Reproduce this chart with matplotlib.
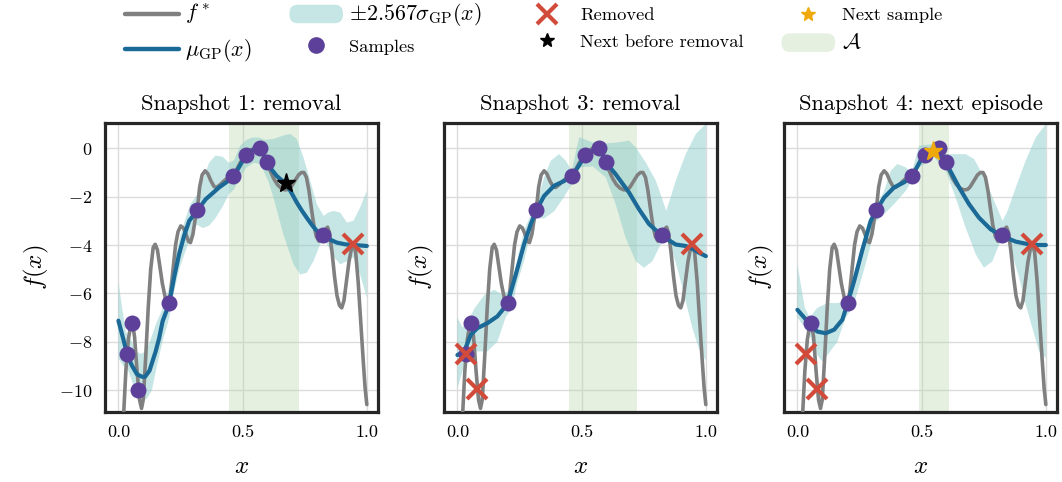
import numpy as np
import matplotlib.pyplot as plt
from matplotlib.lines import Line2D
from matplotlib.patches import Patch, FancyBboxPatch
from matplotlib.legend_handler import HandlerPatch

# ---- data ----
f_star_x = [0.000, 0.010, 0.020, 0.030, 0.040, 0.050, 0.057, 0.065, 0.075, 0.085,
            0.093, 0.100, 0.110, 0.120, 0.130, 0.140, 0.148, 0.157, 0.167, 0.177,
            0.190, 0.200, 0.210, 0.220, 0.230, 0.240, 0.251, 0.262, 0.272, 0.282,
            0.290, 0.300, 0.308, 0.318, 0.327, 0.337, 0.349, 0.360, 0.372, 0.385,
            0.395, 0.410, 0.425, 0.440, 0.459, 0.475, 0.490, 0.513, 0.530, 0.550,
            0.569, 0.583, 0.597, 0.610, 0.625, 0.640, 0.655, 0.670, 0.685, 0.695,
            0.710, 0.725, 0.737, 0.747, 0.757, 0.767, 0.777, 0.787, 0.797, 0.807,
            0.817, 0.825, 0.834, 0.842, 0.850, 0.860, 0.870, 0.880, 0.890, 0.899,
            0.908, 0.918, 0.928, 0.938, 0.946, 0.955, 0.965, 0.975, 0.985, 0.993, 1.000]
f_star_y = [-14.5, -12.8, -11.2, -9.2, -7.9, -7.3, -7.25, -7.8, -9.2, -10.4,
            -10.76, -10.4, -8.6, -6.6, -5.0, -4.1, -3.97, -4.2, -4.9, -5.6,
            -6.25, -6.4, -6.0, -5.0, -4.0, -3.45, -3.21, -3.3, -3.55, -3.85,
            -3.9, -3.55, -3.0, -2.5, -1.6, -1.1, -0.93, -1.05, -1.34, -1.58,
            -1.62, -1.5, -1.35, -1.22, -1.13, -0.9, -0.6, -0.26, -0.08, 0.02,
            0.0, -0.22, -0.57, -0.9, -1.25, -1.5, -1.65, -1.72, -1.7, -1.6,
            -1.35, -1.1, -1.0, -1.0, -1.2, -1.75, -2.5, -3.2, -3.65, -3.84,
            -3.75, -3.6, -3.35, -3.26, -3.5, -4.3, -5.3, -6.1, -6.5, -6.6,
            -6.3, -5.5, -4.7, -4.15, -4.0, -4.3, -5.5, -7.1, -8.7, -9.9, -10.6]

samples_x = [0.034, 0.055, 0.078, 0.205, 0.316, 0.460, 0.513, 0.569, 0.597, 0.824]
samples_y = [-8.51, -7.22, -10.0, -6.39, -2.55, -1.14, -0.26, 0.0, -0.57, -3.59]

# snapshot 1
mean1_x = [0.000, 0.020, 0.036, 0.055, 0.075, 0.095, 0.107, 0.125, 0.150, 0.164,
           0.178, 0.204, 0.225, 0.244, 0.265, 0.285, 0.318, 0.352, 0.380, 0.405,
           0.435, 0.463, 0.490, 0.513, 0.540, 0.568, 0.583, 0.597, 0.617, 0.637,
           0.655, 0.675, 0.697, 0.718, 0.738, 0.758, 0.779, 0.799, 0.826, 0.853,
           0.879, 0.912, 0.946, 0.975, 1.000]
mean1_y = [-7.13, -7.9, -8.55, -9.0, -9.35, -9.45, -9.45, -9.2, -8.4, -7.85,
           -7.15, -6.44, -5.3, -4.39, -3.6, -3.0, -2.56, -2.1, -1.85, -1.62,
           -1.4, -1.18, -0.7, -0.28, -0.08, -0.03, -0.25, -0.58, -0.88, -1.14,
           -1.3, -1.45, -1.85, -2.24, -2.57, -2.87, -3.17, -3.42, -3.63, -3.78,
           -3.9, -3.97, -4.0, -4.02, -4.04]
upper1_x = [0.000, 0.015, 0.030, 0.050, 0.070, 0.090, 0.110, 0.130, 0.150, 0.175,
            0.200, 0.225, 0.250, 0.270, 0.290, 0.315, 0.340, 0.365, 0.390, 0.420,
            0.445, 0.465, 0.490, 0.515, 0.540, 0.565, 0.590, 0.624, 0.664, 0.691,
            0.718, 0.745, 0.772, 0.799, 0.826, 0.846, 0.866, 0.893, 0.920, 0.946,
            0.973, 1.000]
upper1_y = [-5.5, -6.6, -7.6, -7.9, -8.4, -8.5, -8.4, -7.9, -7.3, -6.7,
            -5.9, -4.7, -3.6, -2.9, -2.3, -1.95, -1.3, -0.6, -0.3, -0.35,
            -0.6, -0.5, 0.1, 0.35, 0.45, 0.45, 0.35, 0.39, 0.53, 0.6,
            0.39, -0.37, -1.34, -2.31, -2.8, -2.65, -2.59, -2.66, -3.07, -3.0,
            -2.45, -1.76]
lower1_x = [0.000, 0.020, 0.040, 0.060, 0.080, 0.100, 0.115, 0.135, 0.155, 0.180,
            0.205, 0.225, 0.245, 0.265, 0.290, 0.315, 0.340, 0.365, 0.390, 0.420,
            0.445, 0.465, 0.490, 0.515, 0.545, 0.570, 0.584, 0.605, 0.624, 0.664,
            0.705, 0.732, 0.758, 0.785, 0.812, 0.832, 0.859, 0.893, 0.920, 0.946,
            0.973, 1.000]
lower1_y = [-8.7, -9.0, -9.2, -9.8, -10.3, -10.4, -10.35, -10.0, -9.0, -7.9,
            -7.0, -5.9, -5.0, -4.4, -3.7, -3.15, -3.3, -3.2, -2.9, -2.4,
            -1.9, -1.7, -1.2, -0.8, -0.6, -0.65, -0.93, -1.4, -2.04, -3.56,
            -4.8, -5.22, -5.15, -4.67, -3.98, -3.77, -4.39, -4.8, -4.67, -4.5,
            -5.22, -6.19]

# snapshot 3
mean2_x = [0.000, 0.027, 0.054, 0.080, 0.121, 0.161, 0.201, 0.235, 0.268, 0.295,
           0.318, 0.349, 0.389, 0.430, 0.460, 0.490, 0.517, 0.545, 0.568, 0.583,
           0.597, 0.637, 0.691, 0.731, 0.772, 0.825, 0.879, 0.919, 0.946, 0.973, 1.000]
mean2_y = [-8.55, -8.41, -7.71, -7.44, -7.23, -6.95, -6.44, -5.22, -3.98, -3.14,
           -2.56, -1.97, -1.55, -1.35, -1.18, -0.7, -0.24, -0.1, -0.07, -0.25,
           -0.58, -1.07, -1.83, -2.52, -3.14, -3.63, -3.98, -4.04, -4.15, -4.32, -4.46]
upper2_x = [0.000, 0.020, 0.040, 0.070, 0.110, 0.148, 0.181, 0.205, 0.230, 0.268,
            0.302, 0.318, 0.349, 0.376, 0.409, 0.436, 0.460, 0.490, 0.543, 0.597,
            0.650, 0.691, 0.718, 0.758, 0.799, 0.841, 0.879, 0.919, 0.960, 1.000]
upper2_y = [-7.0, -7.4, -7.2, -6.6, -6.05, -5.85, -6.05, -5.9, -5.1, -3.42,
            -2.6, -2.3, -1.2, -0.51, -0.24, -0.51, -0.93, 0.46, 0.25, 0.2,
            0.25, 0.32, 0.04, -0.58, -1.34, -2.59, -1.34, -0.24, 0.6, 1.0]
lower2_x = [0.000, 0.015, 0.040, 0.080, 0.121, 0.161, 0.194, 0.220, 0.240, 0.270,
            0.300, 0.318, 0.350, 0.390, 0.430, 0.460, 0.490, 0.545, 0.597, 0.637,
            0.677, 0.718, 0.751, 0.785, 0.818, 0.838, 0.865, 0.892, 0.919, 0.946,
            0.973, 1.000]
lower2_y = [-9.93, -9.4, -8.55, -8.4, -8.4, -8.0, -7.0, -6.6, -5.6, -4.6,
            -3.3, -2.9, -2.9, -2.6, -2.0, -1.5, -0.79, -0.75, -1.2, -2.31,
            -3.7, -4.67, -4.94, -4.67, -3.98, -3.7, -4.25, -5.22, -6.33, -7.44,
            -8.3, -8.8]

# snapshot 4
mean3_x = [0.000, 0.029, 0.056, 0.080, 0.114, 0.148, 0.181, 0.201, 0.228, 0.262,
           0.295, 0.318, 0.349, 0.389, 0.430, 0.460, 0.510, 0.550, 0.597, 0.651,
           0.691, 0.731, 0.778, 0.825, 0.879, 0.946, 1.000]
mean3_y = [-6.68, -7.02, -7.37, -7.58, -7.65, -7.5, -7.09, -6.44, -5.5, -4.18,
           -3.0, -2.56, -2.04, -1.62, -1.4, -1.18, -0.24, -0.03, -0.58, -1.62,
           -2.31, -2.87, -3.35, -3.63, -3.86, -4.0, -4.0]
upper3_x = [0.000, 0.014, 0.030, 0.050, 0.080, 0.121, 0.161, 0.201, 0.242, 0.268,
            0.302, 0.318, 0.349, 0.376, 0.402, 0.436, 0.460, 0.490, 0.550, 0.597,
            0.637, 0.677, 0.711, 0.745, 0.778, 0.812, 0.826, 0.846, 0.879, 0.919,
            0.960, 1.000]
upper3_y = [-4.8, -5.64, -6.6, -7.0, -6.6, -6.4, -6.4, -6.3, -4.95, -3.98,
            -2.87, -2.45, -1.76, -0.93, -0.65, -0.79, -1.0, 0.11, 0.18, -0.24,
            -0.24, -0.24, -0.44, -1.07, -1.83, -2.66, -3.0, -2.59, -1.62, -0.51,
            0.46, 1.0]
lower3_x = [0.000, 0.029, 0.054, 0.080, 0.100, 0.121, 0.161, 0.194, 0.222, 0.255,
            0.289, 0.318, 0.349, 0.389, 0.436, 0.460, 0.490, 0.550, 0.597, 0.637,
            0.677, 0.718, 0.751, 0.785, 0.812, 0.838, 0.865, 0.892, 0.919, 0.946,
            0.973, 1.000]
lower3_y = [-7.0, -7.4, -7.85, -8.55, -8.82, -8.55, -8.0, -7.0, -6.6, -5.5,
            -4.25, -3.0, -2.73, -2.31, -1.76, -1.34, -0.79, -0.37, -0.93, -2.04,
            -3.28, -4.39, -4.94, -4.67, -3.98, -3.63, -4.39, -5.33, -6.47, -7.44,
            -8.4, -8.68]

removed_x = [0.034, 0.078, 0.946]
removed_y = [-8.51, -9.95, -3.96]

region_A = [(0.447, 0.726), (0.450, 0.721), (0.491, 0.609)]
titles = ['Snapshot 1: removal', 'Snapshot 3: removal', 'Snapshot 4: next episode']
next_before = (0.674, -1.42)
next_sample = (0.547, -0.10)

# colours
c_fstar = '#808080'
c_mean = '#1b6996'
c_band = '#82c8c8'
c_sample = '#5c4099'
c_removed = '#d24a3a'
c_next = '#f0a90a'
c_region = '#b5d6a7'


def draw_panel(ax, mean_x, mean_y, up_x, up_y, lo_x, lo_y, region, keep, removed_idx, title):
    ax.axvspan(region[0], region[1], color=c_region, alpha=0.35, lw=0, zorder=1)
    poly_x = np.concatenate([up_x, lo_x[::-1]])
    poly_y = np.concatenate([up_y, lo_y[::-1]])
    ax.fill(poly_x, poly_y, color=c_band, alpha=0.45, lw=0, zorder=2)
    ax.plot(f_star_x, f_star_y, color=c_fstar, lw=2.6, zorder=3, solid_capstyle='round')
    ax.plot(mean_x, mean_y, color=c_mean, lw=3.0, zorder=4, solid_capstyle='round')
    sx = [samples_x[i] for i in keep]
    sy = [samples_y[i] for i in keep]
    ax.plot(sx, sy, 'o', color=c_sample, ms=11.5, mew=0, zorder=5)
    rx = [removed_x[i] for i in removed_idx]
    ry = [removed_y[i] for i in removed_idx]
    ax.plot(rx, ry, 'x', color=c_removed, ms=15, mew=3, zorder=6)
    ax.set_title(title, fontsize=16.2, pad=9)
    ax.set_xlim(-0.054, 1.045)
    ax.set_ylim(-10.92, 1.06)
    ax.set_xticks([0.0, 0.5, 1.0])
    ax.set_xticklabels(['0.0', '0.5', '1.0'])
    ax.set_yticks([0, -2, -4, -6, -8, -10])
    ax.grid(True, color='#dcdcdc', lw=1.0, zorder=0)
    ax.set_axisbelow(True)
    ax.tick_params(length=0, labelsize=13, pad=9)
    ax.set_xlabel(r'$x$', fontsize=18, labelpad=11)
    ax.set_ylabel(r'$f(x)$', fontsize=18, labelpad=6)
    for sp in ax.spines.values():
        sp.set_color('#262626')
        sp.set_linewidth(2.3)


def rounded_patch(legend, orig_handle, xdescent, ydescent, width, height, fontsize):
    """Pill shaped legend handle for the shaded areas."""
    return FancyBboxPatch((-xdescent, -ydescent - 2), width, height + 4,
                          boxstyle='round,pad=0,rounding_size=6', lw=0)


plt.rcParams['font.family'] = 'serif'
plt.rcParams['font.serif'] = ['cmr10']
plt.rcParams['mathtext.fontset'] = 'cm'
plt.rcParams['axes.formatter.use_mathtext'] = True

fig = plt.figure(figsize=(10.62, 4.82), dpi=100)
w = 273 / 1062
h = 289.6 / 482
bottom = 1 - 412.3 / 482
lefts = [105 / 1062, 444 / 1062, 784 / 1062]
axes = [fig.add_axes([l, bottom, w, h]) for l in lefts]

draw_panel(axes[0], mean1_x, mean1_y, upper1_x, upper1_y, lower1_x, lower1_y,
           region_A[0], range(10), [2], titles[0])
axes[0].plot(*next_before, '*', color='black', ms=14, zorder=7)

draw_panel(axes[1], mean2_x, mean2_y, upper2_x, upper2_y, lower2_x, lower2_y,
           region_A[1], [0, 1, 3, 4, 5, 6, 7, 8, 9], [0, 1, 2], titles[1])
axes[1].tick_params(labelleft=False)

draw_panel(axes[2], mean3_x, mean3_y, upper3_x, upper3_y, lower3_x, lower3_y,
           region_A[2], [1, 3, 4, 5, 6, 7, 8, 9], [0, 1, 2], titles[2])
axes[2].plot(*next_sample, '*', color=c_next, ms=14, zorder=7)
axes[2].tick_params(labelleft=False)

band_handle = Patch(facecolor=c_band, alpha=0.45, lw=0)
region_handle = Patch(facecolor=c_region, alpha=0.35, lw=0)
handles = [
    Line2D([], [], color=c_fstar, lw=3.2, solid_capstyle='round'),
    Line2D([], [], color=c_mean, lw=3.2, solid_capstyle='round'),
    band_handle,
    Line2D([], [], marker='o', ls='', color=c_sample, ms=12, mew=0),
    Line2D([], [], marker='x', ls='', color=c_removed, ms=15, mew=3),
    Line2D([], [], marker='*', ls='', color='black', ms=10),
    Line2D([], [], marker='*', ls='', color=c_next, ms=10),
    region_handle,
]
labels = [r'$f^*$', r'$\mu_{\mathrm{GP}}(x)$', r'$\pm 2.567\sigma_{\mathrm{GP}}(x)$', 'Samples',
          'Removed', 'Next before removal', 'Next sample', r'$\mathcal{A}$']
leg = fig.legend(handles, labels, ncol=4, loc='upper left', bbox_to_anchor=(125 / 1062, 0.997),
                 frameon=False, fontsize=13.3, handlelength=2.9, columnspacing=2.05,
                 handletextpad=0.35, labelspacing=0.55, borderpad=0, borderaxespad=0,
                 handler_map={band_handle: HandlerPatch(patch_func=rounded_patch),
                              region_handle: HandlerPatch(patch_func=rounded_patch)})
# LaTeX-style math in the reference runs wider than plain text
for i in (0, 1, 2, 7):
    leg.get_texts()[i].set_fontsize(15.8)

fig.savefig('out.png', dpi=100)
